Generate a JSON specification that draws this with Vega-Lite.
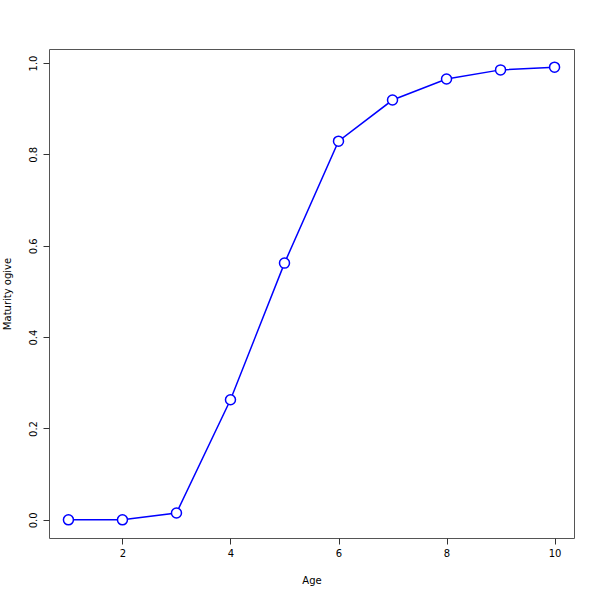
{
  "$schema": "https://vega.github.io/schema/vega-lite/v6.json",
  "autosize": "none",
  "width": 525,
  "height": 489,
  "padding": {"left": 49, "top": 49, "right": 26, "bottom": 62},
  "background": "white",
  "config": {
    "view": {"stroke": "#555555", "strokeWidth": 1},
    "font": "DejaVu Sans",
    "axis": {"grid": false, "domain": false, "tickColor": "#333333", "tickSize": 6, "labelFont": "DejaVu Sans", "labelFontSize": 10, "labelColor": "black", "titleFont": "DejaVu Sans", "titleFontSize": 10, "titleFontWeight": "normal", "titleColor": "black"}
  },
  "data": {"values": [
    {"age": 1, "mat": 0.0},
    {"age": 2, "mat": 0.0},
    {"age": 3, "mat": 0.015},
    {"age": 4, "mat": 0.263},
    {"age": 5, "mat": 0.562},
    {"age": 6, "mat": 0.829},
    {"age": 7, "mat": 0.919},
    {"age": 8, "mat": 0.965},
    {"age": 9, "mat": 0.985},
    {"age": 10, "mat": 0.991}
  ]},
  "encoding": {
    "x": {"field": "age", "type": "quantitative", "scale": {"domain": [0.64, 10.36], "nice": false, "zero": false},
      "axis": {"title": "Age", "values": [2, 4, 6, 8, 10], "labelPadding": 4, "titlePadding": 17}},
    "y": {"field": "mat", "type": "quantitative", "scale": {"domain": [-0.0397, 1.0307], "nice": false, "zero": false},
      "axis": {"title": "Maturity ogive", "values": [0, 0.2, 0.4, 0.6, 0.8, 1.0], "format": ".1f", "labelAngle": -90, "labelAlign": "center", "labelBaseline": "bottom", "labelPadding": 5, "titlePadding": 16}}
  },
  "layer": [
    {"mark": {"type": "line", "color": "blue", "strokeWidth": 1.5}},
    {"mark": {"type": "point", "shape": "circle", "filled": true, "fill": "white", "stroke": "blue", "strokeWidth": 1.5, "size": 100, "opacity": 1}}
  ]
}
